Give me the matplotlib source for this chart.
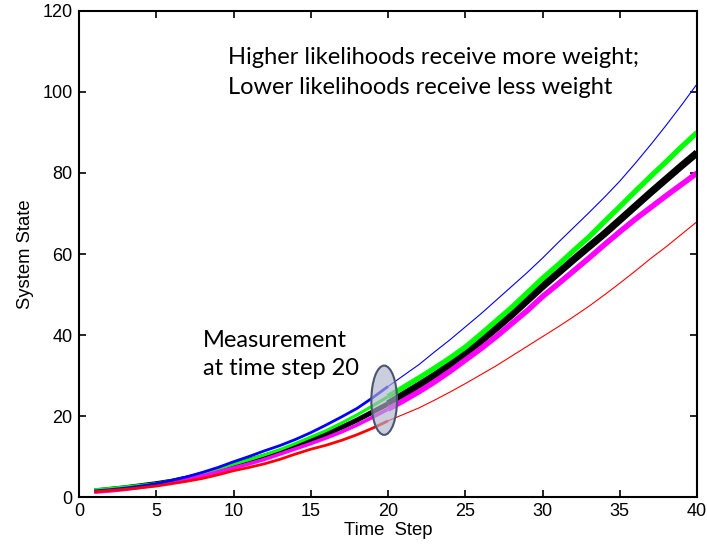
import matplotlib
matplotlib.use('Agg')
import matplotlib.pyplot as plt
from matplotlib.patches import Ellipse
import numpy as np

steps = np.arange(1, 41)

# Particle trajectories
blue = [1.5, 1.8, 2.2, 2.7, 3.3, 4.1, 5.0, 6.1, 7.3, 8.7,
        10.0, 11.4, 12.7, 14.2, 15.9, 17.8, 19.8, 21.9, 24.5, 27.3,
        30.0, 32.7, 35.8, 38.8, 42.0, 45.2, 48.6, 52.0, 55.4, 59.0,
        62.8, 66.5, 70.2, 74.0, 78.0, 82.4, 87.0, 91.8, 96.8, 102.0]
green = [1.8, 2.1, 2.5, 2.9, 3.3, 4.0, 4.8, 5.8, 6.9, 8.1,
         9.2, 10.4, 11.7, 13.2, 14.8, 16.4, 18.3, 20.3, 22.5, 24.8,
         27.1, 29.4, 31.8, 34.3, 37.0, 40.2, 43.5, 46.8, 50.4, 54.0,
         57.3, 60.8, 64.2, 68.0, 71.7, 75.5, 79.2, 82.8, 86.5, 90.0]
black = [1.5, 1.9, 2.3, 2.8, 3.3, 3.9, 4.7, 5.6, 6.7, 7.9,
         9.0, 10.1, 11.3, 12.6, 14.0, 15.5, 17.2, 19.0, 21.0, 23.0,
         25.3, 27.6, 30.0, 32.7, 35.5, 38.5, 41.7, 45.0, 48.5, 52.0,
         55.3, 58.6, 61.8, 65.0, 68.4, 71.8, 75.2, 78.5, 81.8, 85.0]
magenta = [1.2, 1.5, 1.9, 2.4, 3.0, 3.6, 4.3, 5.2, 6.2, 7.2,
           8.2, 9.3, 10.6, 11.9, 13.2, 14.6, 16.1, 17.8, 19.7, 21.7,
           23.8, 26.0, 28.4, 31.0, 33.8, 36.6, 39.6, 42.8, 46.0, 49.5,
           52.6, 55.8, 59.0, 62.3, 65.5, 68.6, 71.5, 74.4, 77.2, 80.0]
red = [1.3, 1.6, 1.9, 2.3, 2.7, 3.3, 3.9, 4.6, 5.5, 6.5,
       7.3, 8.2, 9.3, 10.6, 11.8, 12.8, 14.0, 15.4, 17.0, 18.8,
       20.4, 22.0, 23.9, 25.9, 28.0, 30.2, 32.4, 34.8, 37.2, 39.6,
       42.0, 44.5, 47.1, 49.9, 52.8, 55.8, 58.9, 61.8, 64.9, 68.0]

# (series, colour, width before step 20, width after step 20)
series = [(black, 'black', 3.6, 5.2),
          (green, '#00ff00', 2.2, 3.8),
          (magenta, '#ff00ff', 2.6, 4.0),
          (blue, 'blue', 2.0, 0.8),
          (red, 'red', 2.0, 0.8)]

plt.rcParams['font.family'] = ['Liberation Sans', 'DejaVu Sans']
note_font = ['Lato', 'DejaVu Sans']

fig = plt.figure(figsize=(7.07, 5.52), dpi=100)
ax = fig.add_axes([0.1117, 0.0996, 0.8743, 0.8805])

split = 19  # index of time step 20
for vals, col, lw_before, lw_after in series:
    vals = np.array(vals)
    ax.plot(steps[:split + 1], vals[:split + 1], color=col, lw=lw_before,
            solid_capstyle='butt')
    ax.plot(steps[split:], vals[split:], color=col, lw=lw_after,
            solid_capstyle='butt')

# Measurement ellipse
ax.add_patch(Ellipse((19.75, 23.9), 1.66, 17.1, facecolor='#aeb4cc',
                     alpha=0.65, edgecolor='none', zorder=5))
ax.add_patch(Ellipse((19.75, 23.9), 1.66, 17.1, facecolor='none',
                     edgecolor='#4a5570', lw=1.5, zorder=6))

ax.set_xlim(0, 40)
ax.set_ylim(0, 120)
ax.set_xticks(np.arange(0, 41, 5))
ax.set_yticks(np.arange(0, 121, 20))
ax.tick_params(direction='in', length=5, width=1.2, top=True, right=True,
               labelsize=13, pad=4.5)
for sp in ax.spines.values():
    sp.set_linewidth(1.5)

ax.set_xlabel('Time  Step', fontsize=13.3, labelpad=1)
ax.set_ylabel('System State', fontsize=13.3, labelpad=6)

ax.text(9.65, 106.8, 'Higher likelihoods receive more weight;',
        fontsize=17, family=note_font, va='baseline', ha='left')
ax.text(9.65, 99.4, 'Lower likelihoods receive less weight',
        fontsize=17, family=note_font, va='baseline', ha='left')
ax.text(8.05, 37.1, 'Measurement', fontsize=17, family=note_font,
        va='baseline', ha='left')
ax.text(8.05, 30.1, 'at time step 20', fontsize=17, family=note_font,
        va='baseline', ha='left')

fig.savefig('out.png', dpi=100)
